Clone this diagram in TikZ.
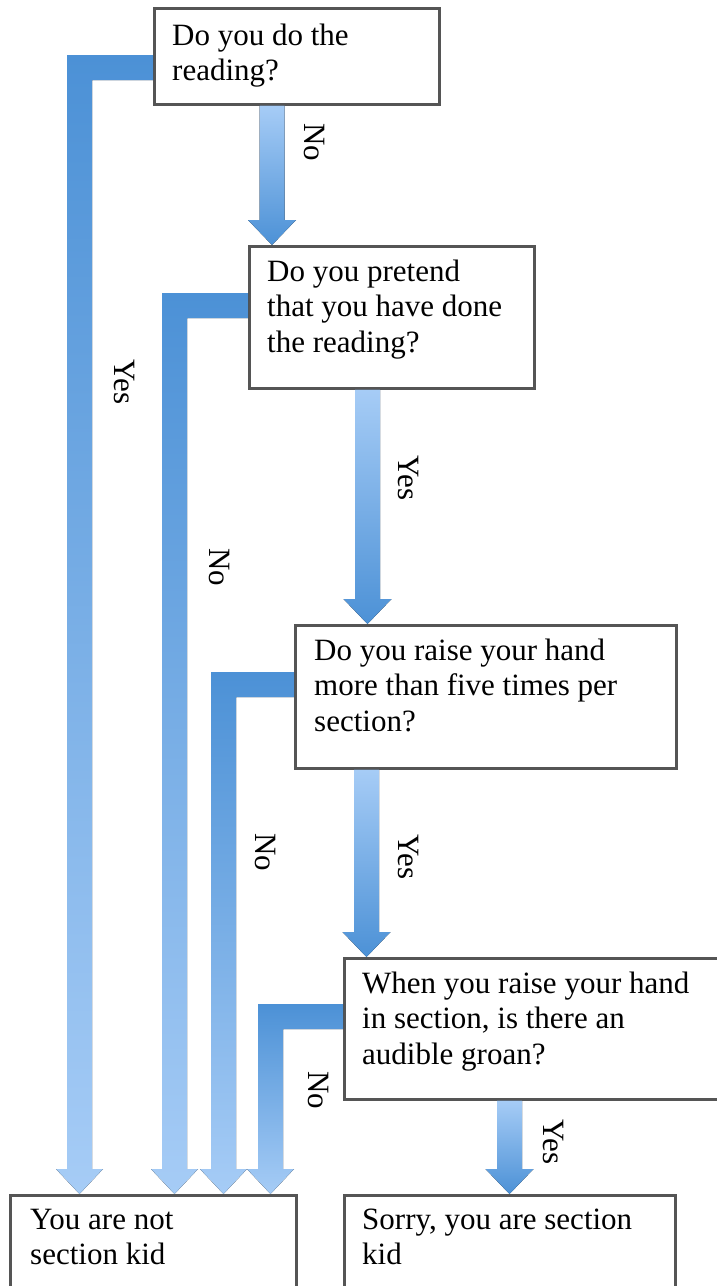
\documentclass[tikz,border=0pt]{standalone}
\usepackage{fontspec}
\setmainfont{Liberation Serif}
\usetikzlibrary{calc}
\definecolor{boxline}{RGB}{85,85,85}
\definecolor{bluedark}{RGB}{76,145,214}
\definecolor{bluelight}{RGB}{166,204,246}
\tikzset{
  qbox/.style={draw=boxline, line width=2.5pt, fill=white, rectangle, anchor=north west, inner sep=0pt},
  qtext/.style={anchor=base west, align=left, inner sep=0pt, font=\fontsize{31}{35.5}\selectfont},
  lbl/.style={rotate=-90, inner sep=0pt, font=\fontsize{31}{35.5}\selectfont},
  bentshade/.style={top color=bluedark, bottom color=bluelight},
  straightshade/.style={top color=bluelight, bottom color=bluedark},
}
% #1 source node, #2 arm top y, #3 shaft left x, #4 target node
\newcommand\bentarrow[4]{%
  \fill[bentshade] (#1.west |- 0,#2) -- (#3,#2)
    -- ($({#3},0 |- #4.north)+(0,-25)$)
    -- ($({#3-11},0 |- #4.north)+(0,-25)$)
    -- ({#3+12.5},0 |- #4.north)
    -- ($({#3+36},0 |- #4.north)+(0,-25)$)
    -- ($({#3+25},0 |- #4.north)+(0,-25)$)
    -- ({#3+25},{#2+25}) -- (#1.west |- 0,{#2+25}) -- cycle;}
% #1 source node, #2 target node, #3 centre x
\newcommand\straightarr[3]{%
  \fill[straightshade] ({#3-12.5},0 |- #1.south)
    -- ($({#3-12.5},0 |- #2.north)+(0,-25)$)
    -- ($({#3-24},0 |- #2.north)+(0,-25)$)
    -- (#3,0 |- #2.north)
    -- ($({#3+24},0 |- #2.north)+(0,-25)$)
    -- ($({#3+12.5},0 |- #2.north)+(0,-25)$)
    -- ({#3+12.5},0 |- #1.south) -- cycle;}
\begin{document}
\begin{tikzpicture}[x=1pt,y=-1pt]
\useasboundingbox (0,0) rectangle (717,1286);
% boxes
\node[qbox, minimum width=285, minimum height=96] (b1) at (153,7) {};
\node[qbox, minimum width=285, minimum height=142] (b2) at (248,245) {};
\node[qbox, minimum width=381, minimum height=143] (b3) at (294,624) {};
\node[qbox, minimum width=400, minimum height=141] (b4) at (343,957) {};
\node[qbox, minimum width=286, minimum height=110] (b5) at (9,1194) {};
\node[qbox, minimum width=331, minimum height=110] (b6) at (343,1194) {};
% texts (anchor is the baseline of the last line)
\node[qtext] (t1) at ($(b1.north west)+(19,38+35.5)$) {Do you do the\\reading?};
\node[qtext] (t2) at ($(b2.north west)+(19,36+71)$) {Do you pretend\\that you have done\\the reading?};
\node[qtext] (t3) at ($(b3.north west)+(20,36+71)$) {Do you raise your hand\\more than five times per\\section?};
\node[qtext] (t4) at ($(b4.north west)+(19,36+71)$) {When you raise your hand\\in section, is there an\\audible groan?};
\node[qtext] (t5) at ($(b5.north west)+(21,35+35.5)$) {You are not\\section kid};
\node[qtext] (t6) at ($(b6.north west)+(19,35+35.5)$) {Sorry, you are section\\kid};
% straight arrows
\straightarr{b1}{b2}{272}
\straightarr{b2}{b3}{367.5}
\straightarr{b3}{b4}{366.5}
\straightarr{b4}{b6}{509.5}
% bent arrows
\bentarrow{b1}{55}{67}{b5}
\bentarrow{b2}{293}{162}{b5}
\bentarrow{b3}{672}{211}{b5}
\bentarrow{b4}{1004}{258}{b5}
% labels
\node[lbl] (l1) at (314,142) {No};
\node[lbl] (l2) at (124,382) {Yes};
\node[lbl] (l3) at (219,567) {No};
\node[lbl] (l4) at (408,478) {Yes};
\node[lbl] (l5) at (265,852) {No};
\node[lbl] (l6) at (408,857) {Yes};
\node[lbl] (l7) at (318,1090) {No};
\node[lbl] (l8) at (553,1142) {Yes};
\end{tikzpicture}
\end{document}
